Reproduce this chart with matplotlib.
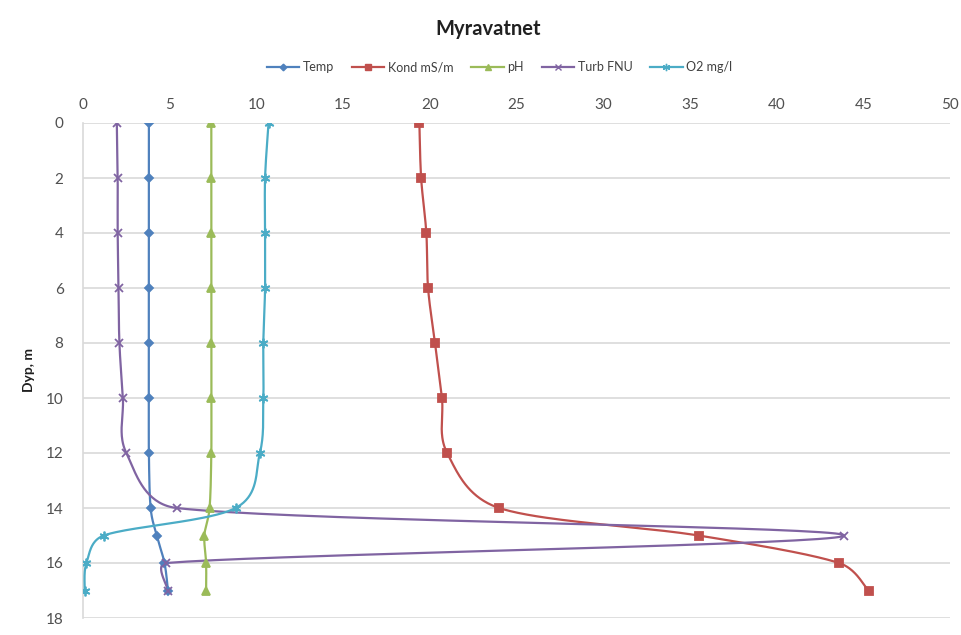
import numpy as np
import matplotlib
matplotlib.use("Agg")
import matplotlib.pyplot as plt

depth = [0, 2, 4, 6, 8, 10, 12, 14, 15, 16, 17]
temp = [3.8, 3.8, 3.8, 3.8, 3.8, 3.8, 3.8, 3.9, 4.25, 4.7, 4.9]
kond = [19.4, 19.5, 19.8, 19.9, 20.3, 20.7, 21.0, 24.0, 35.5, 43.6, 45.3]
ph = [7.4, 7.4, 7.4, 7.4, 7.4, 7.4, 7.4, 7.3, 7.0, 7.1, 7.1]
turb = [1.95, 2.0, 2.0, 2.05, 2.1, 2.3, 2.5, 5.4, 43.9, 4.8, 4.9]
o2 = [10.7, 10.5, 10.5, 10.5, 10.4, 10.4, 10.2, 8.8, 1.2, 0.2, 0.1]

series_names = ["Temp", "Kond mS/m", "pH", "Turb FNU", "O2 mg/l"]
colors = ["#4F81BD", "#C0504D", "#9BBB59", "#8064A2", "#4BACC6"]
markers = ["D", "s", "^", "x", (6, 2, 0)]
msizes = [4.5, 6, 5.5, 6, 7]

plt.rcParams['font.family'] = ['Lato', 'DejaVu Sans']

def _limit(v, seglen, frac=0.45):
    L = np.hypot(*v)
    mx = frac * seglen
    if L > mx and L > 0:
        v = v * mx / L
    return v

def smooth(x, y, sx=17.35, sy=27.5, n=40):
    # Excel-like smoothed line drawn between the data points (pixel-scaled space)
    P = np.column_stack([np.asarray(x, float) * sx, np.asarray(y, float) * sy])
    out = [P[0]]
    m = len(P)
    for i in range(m - 1):
        p0 = P[i - 1] if i > 0 else P[i]
        p1 = P[i]
        p2 = P[i + 1]
        p3 = P[i + 2] if i + 2 < m else P[i + 1]
        seg = np.hypot(*(p2 - p1))
        c1 = p1 + _limit((p2 - p0) / 6.0, seg)
        c2 = p2 - _limit((p3 - p1) / 6.0, seg)
        t = np.linspace(0, 1, n)[1:, None]
        b = ((1 - t) ** 3) * p1 + 3 * ((1 - t) ** 2) * t * c1 + 3 * (1 - t) * t ** 2 * c2 + t ** 3 * p2
        out.extend(b)
    out = np.array(out)
    return out[:, 0] / sx, out[:, 1] / sy

fig = plt.figure(figsize=(9.61, 6.35), dpi=100)
ax = fig.add_axes([83 / 961, 1 - 618 / 635, (950 - 83) / 961, (618 - 123) / 635])

data = [temp, kond, ph, turb, o2]
handles = []
for name, vals, c, mk, ms in zip(series_names, data, colors, markers, msizes):
    sxv, syv = smooth(vals, depth)
    ax.plot(sxv, syv, color=c, lw=1.6, zorder=3)
    ax.plot(vals, depth, linestyle='none', marker=mk, color=c, ms=ms, mew=1.3, zorder=4)
    h, = ax.plot([], [], color=c, lw=1.6, marker=mk, ms=ms * 0.75, mew=1.0, label=name)
    handles.append(h)

ax.set_xlim(0, 50)
ax.set_ylim(18, 0)
ax.set_xticks(range(0, 51, 5))
ax.set_yticks(range(0, 19, 2))
ax.xaxis.tick_top()
ax.tick_params(axis='both', length=0, labelsize=11, colors='#505050')
ax.tick_params(axis='x', pad=8)
ax.tick_params(axis='y', pad=14)
ax.yaxis.grid(True, color='#D9D9D9', lw=1.2)
ax.set_axisbelow(True)
for s in ['top', 'right', 'bottom']:
    ax.spines[s].set_visible(False)
ax.spines['left'].set_color('#D9D9D9')
ax.spines['left'].set_linewidth(1.2)

ax.set_ylabel("Dyp, m", fontsize=10, fontweight='bold', color='#202020', labelpad=8)

fig.text(0.508, 1 - 29 / 635, "Myravatnet", ha='center', va='center', fontsize=14.5, fontweight='bold', color='#202020')
fig.legend(handles=handles, loc='center', bbox_to_anchor=(0.52, 1 - 67 / 635), ncol=5, frameon=False,
           fontsize=9, handlelength=2.6, columnspacing=1.4, handletextpad=0.3, labelcolor='#404040')

fig.savefig("out.png", dpi=100)
